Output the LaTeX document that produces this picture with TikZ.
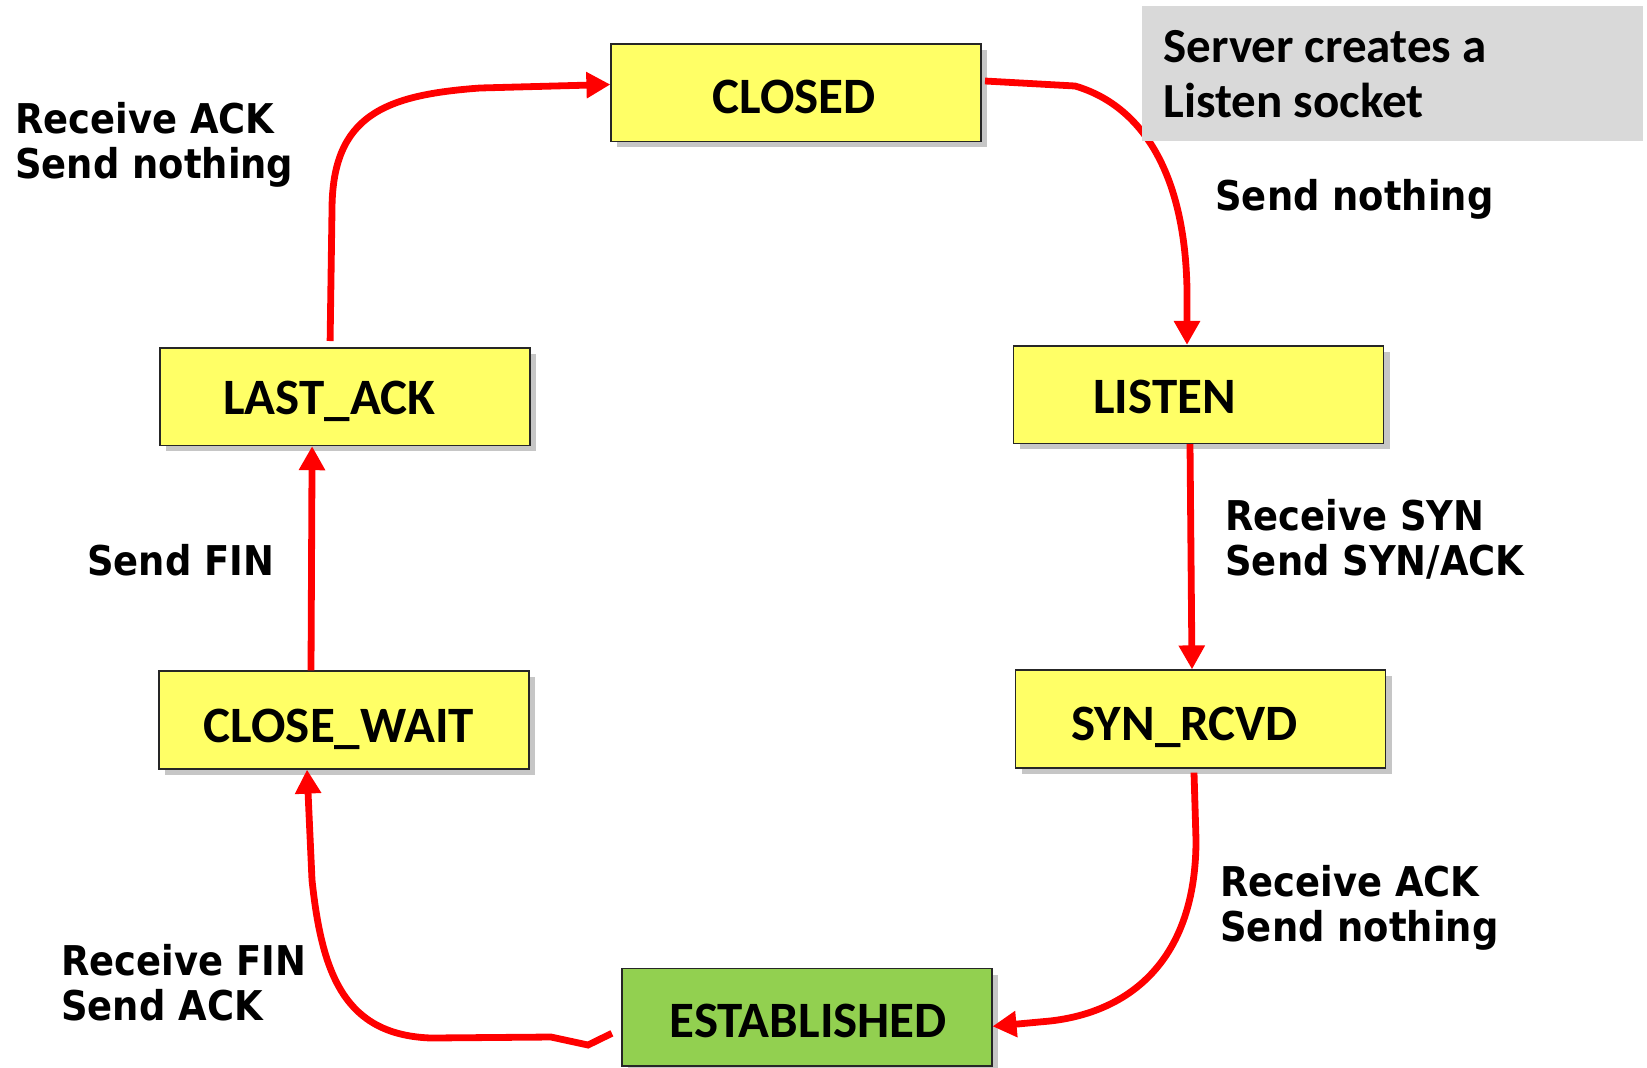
\documentclass[tikz,border=0pt]{standalone}
\usepackage{fontspec}
\newfontfamily\statefont{Carlito}
\newfontfamily\transfont[FakeStretch=0.9]{DejaVu Sans}
\usetikzlibrary{arrows.meta, shadows}
\definecolor{stateyellow}{HTML}{FFFF66}
\definecolor{stategreen}{HTML}{92D050}
\definecolor{notegray}{HTML}{D9D9D9}

\begin{document}
\begin{tikzpicture}[
    x=0.5pt, y=-0.5pt,
    state/.style={rectangle, draw=black!85, line width=0.8pt, fill=stateyellow,
                  minimum width=185pt, minimum height=48.8pt, inner sep=0pt,
                  drop shadow={shadow xshift=3pt, shadow yshift=-3pt, opacity=0.45}},
    statetext/.style={font=\statefont\bfseries\fontsize{25.5}{28}\selectfont,
                      anchor=base, inner sep=0pt},
    trans/.style={font=\transfont\bfseries\fontsize{20.5}{22.5}\selectfont,
                  align=left, anchor=base west, inner sep=0pt},
    flow/.style={-{Triangle[length=12pt, width=12.5pt]}, red, line width=3.4pt}
]
\useasboundingbox (0,0) rectangle (1647,1067);

% states
\node[state] (closed) at (796.2,92.5) {};
\node[statetext] (closedtext) at (794,113.4) {CLOSED};
\node[state] (listen) at (1198.5,394.5) {};
\node[statetext] (listentext) at (1164.4,413.9) {LISTEN};
\node[state] (lastack) at (345.1,396.6) {};
\node[statetext] (lastacktext) at (329.3,414.9) {LAST\_ACK};
\node[state] (closewait) at (344,720) {};
\node[statetext] (closewaittext) at (338.8,742.6) {CLOSE\_WAIT};
\node[state] (synrcvd) at (1200.6,719) {};
\node[statetext] (synrcvdtext) at (1184.9,740.5) {SYN\_RCVD};
\node[state, fill=stategreen] (established) at (806.7,1017.3) {};
\node[statetext] (establishedtext) at (808.3,1037.8) {ESTABLISHED};

% transition labels (base = last line)
\node[trans] (ackclosed) at (15,178.3) {Receive ACK\\Send nothing};
\node[trans] (sendnothing) at (1215,210) {Send nothing};
\node[trans] (synrcv) at (1225,575) {Receive SYN\\Send SYN/ACK};
\node[trans] (ackest) at (1220,941) {Receive ACK\\Send nothing};
\node[trans] (sendfin) at (87,575) {Send FIN};
\node[trans] (finrcv) at (61,1020) {Receive FIN\\Send ACK};

% transitions
\draw[flow] ([xshift=-7.5pt, yshift=3pt]lastack.north) -- (332,210)
    .. controls (332,115) and (385,95) .. (480,88) -- ([yshift=4pt]closed.west);
\draw[flow] ([xshift=1.5pt, yshift=5.75pt]closed.east) -- (1075,86)
    .. controls (1140,105) and (1185,170) .. (1187,290) -- ([xshift=-5.75pt]listen.north);
\draw[flow] ([xshift=-4.25pt]listen.south) -- ([xshift=-4.3pt]synrcvd.north);
\draw[flow] ([xshift=-3.3pt, yshift=-2pt]synrcvd.south) -- (1196,840)
    .. controls (1196,960) and (1130,1012) .. (1050,1021) -- ([yshift=-4.5pt]established.east);
\draw[flow] ([xshift=-4.5pt, yshift=-8pt]established.west) -- (588,1045) -- (551,1037) -- (431,1038)
    .. controls (345,1035) and (322,975) .. (312,880) -- ([xshift=-18.5pt]closewait.south);
\draw[flow] ([xshift=-16.5pt]closewait.north) -- ([xshift=-16.5pt]lastack.south);

% note
\node[fill=notegray, minimum width=250.5pt, minimum height=67.25pt, inner sep=0pt] (note) at (1392.3,73.5) {};
\node[font=\statefont\bfseries\fontsize{24.5}{27.5}\selectfont, align=left, anchor=base west, inner sep=0pt]
    (notetext) at (1163,117) {Server creates a\\Listen socket};
\end{tikzpicture}
\end{document}
